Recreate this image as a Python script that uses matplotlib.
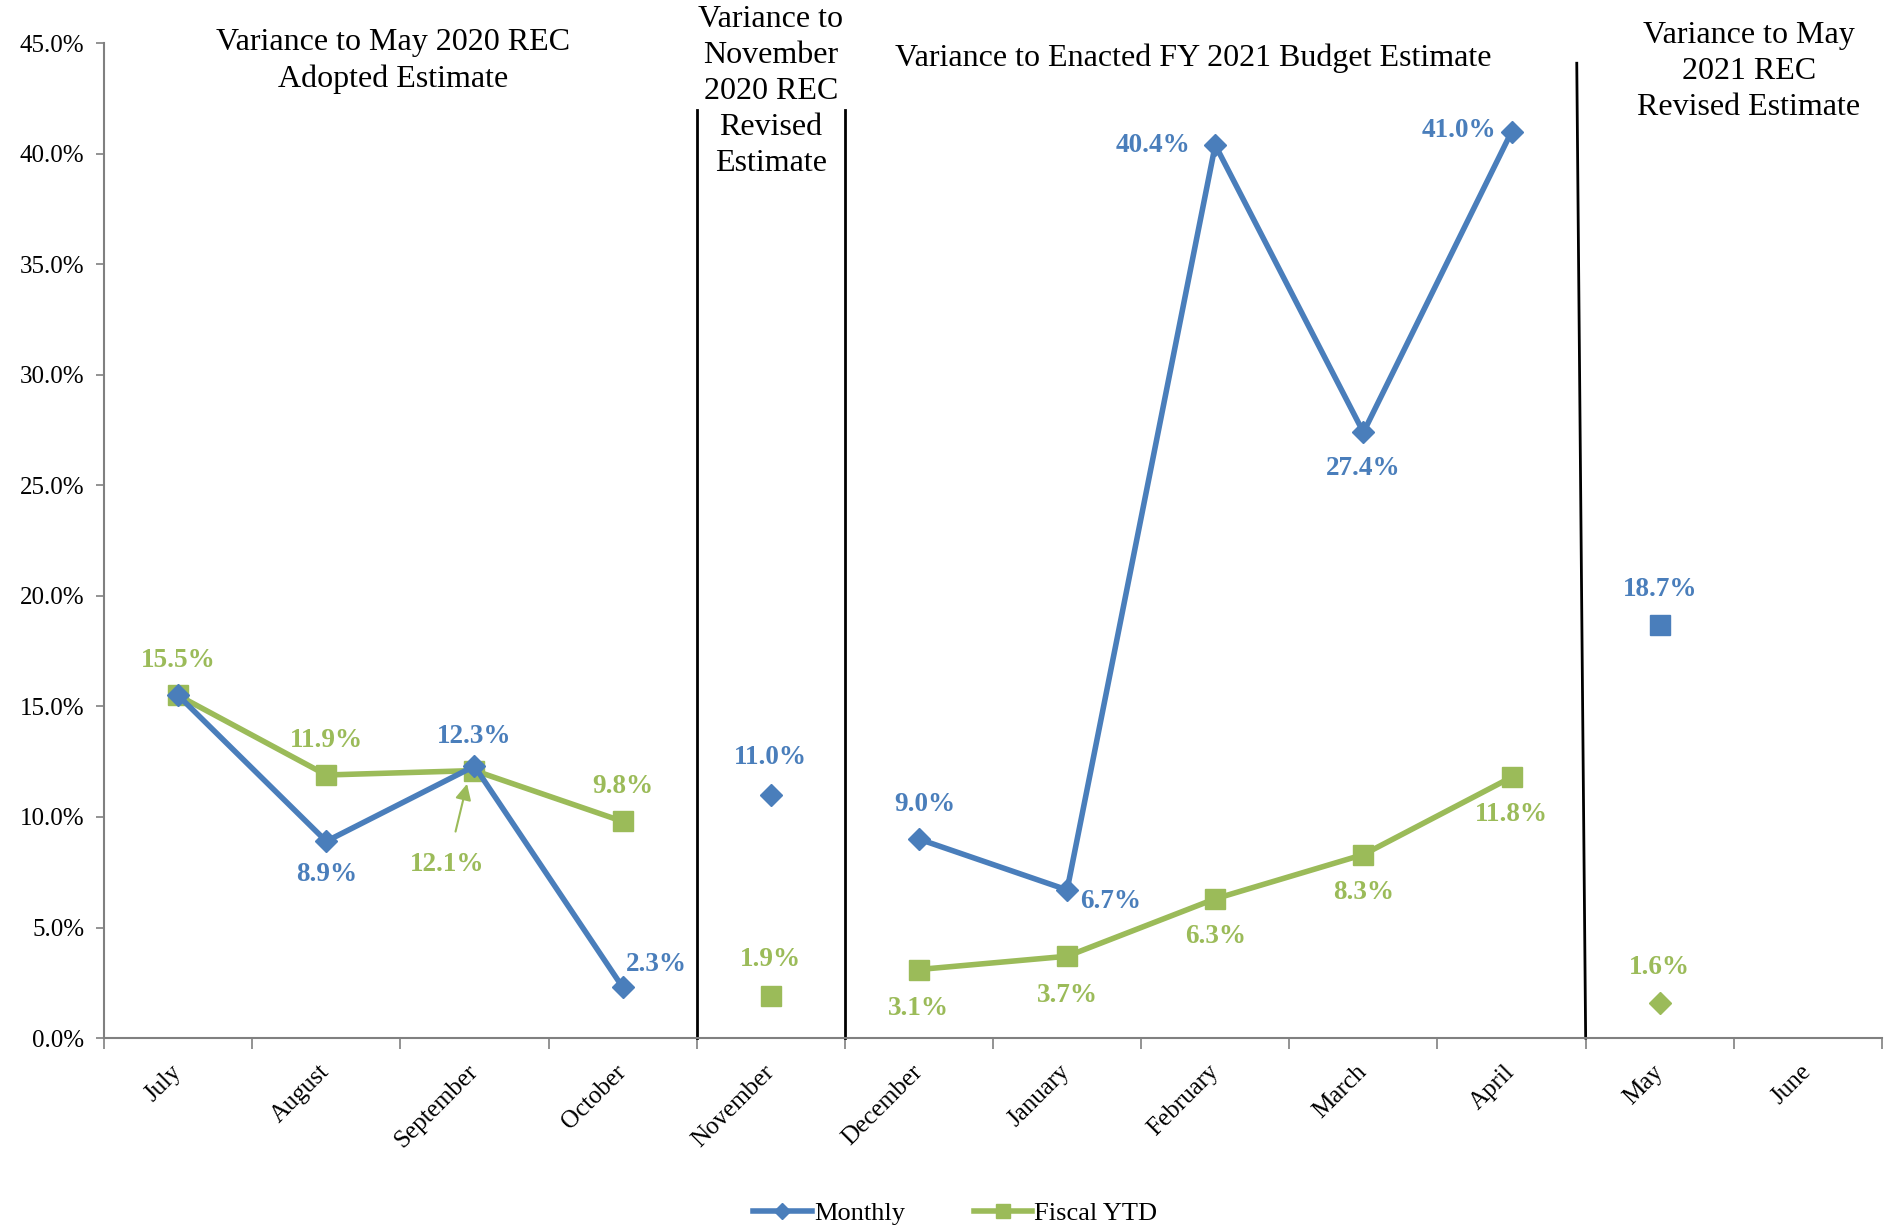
import numpy as np
import matplotlib.pyplot as plt
import matplotlib.transforms as mtransforms

months = ["July", "August", "September", "October", "November", "December",
          "January", "February", "March", "April", "May", "June"]
monthly = [15.5, 8.9, 12.3, 2.3, 11.0, 9.0, 6.7, 40.4, 27.4, 41.0, 18.7, np.nan]
fiscal_ytd = [15.5, 11.9, 12.1, 9.8, 1.9, 3.1, 3.7, 6.3, 8.3, 11.8, 1.6, np.nan]

# groups of months that share one estimate (lines break between them)
segments = [(0, 4), (4, 5), (5, 10), (10, 11)]
dividers = [3.5, 4.5, 9.5]
divider_tops = [42.0, 42.0, 44.1]

headers = ["Variance to May 2020 REC\nAdopted Estimate",
           "Variance to\nNovember\n2020 REC\nRevised\nEstimate",
           "Variance to Enacted FY 2021 Budget Estimate",
           "Variance to May\n2021 REC\nRevised Estimate"]
header_x = [1.45, 4.0, 6.85, 10.6]
header_y = [45.7, 46.75, 45.0, 46.0]

blue = "#4A7EBB"
green = "#9BBB59"

plt.rcParams['font.family'] = ['Liberation Serif', 'DejaVu Serif']

fig = plt.figure(figsize=(18.92, 12.28), dpi=100)
ax = fig.add_axes([0.055, 0.1547, 0.9397, 0.81])

x = np.arange(len(months))
m = np.array(monthly)
f = np.array(fiscal_ytd)

for i, (a, b) in enumerate(segments):
    xs = x[a:b]
    if i == 3:
        # May: markers swapped in the source
        ax.plot(xs, m[a:b], color=blue, marker="s", markersize=14, lw=0)
        ax.plot(xs, f[a:b], color=green, marker="D", markersize=11, lw=0)
    else:
        ax.plot(xs, m[a:b], color=blue, marker="D", markersize=11, lw=4,
                label="Monthly" if i == 0 else None, zorder=3)
        ax.plot(xs, f[a:b], color=green, marker="s", markersize=14, lw=4,
                label="Fiscal YTD" if i == 0 else None, zorder=2)

# label offsets in points
m_off = [None, (0, -24), (0, 21), (24, 16), (0, 27), (4, 25), (31, -8),
         (-45, 0), (0, -26), (-38, 1), (0, 25), None]
f_off = [(0, 25), (0, 25), None, (0, 25), (0, 26), (0, -28), (0, -28),
         (0, -27), (0, -27), (0, -27), (0, 25), None]

for i in range(len(months)):
    if m_off[i] is not None:
        ax.annotate(f"{monthly[i]:.1f}%", (x[i], monthly[i]), xytext=m_off[i],
                    textcoords="offset points", ha="center", va="center",
                    color=blue, fontsize=19.5, fontweight="bold")
    if f_off[i] is not None:
        ax.annotate(f"{fiscal_ytd[i]:.1f}%", (x[i], fiscal_ytd[i]), xytext=f_off[i],
                    textcoords="offset points", ha="center", va="center",
                    color=green, fontsize=19.5, fontweight="bold")

# September fiscal label with arrow
ax.annotate(f"{fiscal_ytd[2]:.1f}%", (x[2] - 0.05, fiscal_ytd[2] - 0.6), xytext=(-14, -58),
            textcoords="offset points", ha="center", va="center",
            color=green, fontsize=19.5, fontweight="bold",
            arrowprops=dict(arrowstyle="-|>", color=green, lw=1.5, mutation_scale=24,
                            shrinkA=13, shrinkB=0))

for d, top in zip(dividers, divider_tops):
    if d == 9.5:
        ax.plot([d - 0.06, d + 0.0], [top, 0], color="black", lw=2, clip_on=False)
    else:
        ax.plot([d, d], [0, top], color="black", lw=2, clip_on=False)

for t, hx, hy in zip(headers, header_x, header_y):
    ax.text(hx, hy, t, ha="center", va="top", fontsize=23, linespacing=1.32)

ax.set_xlim(-0.5, 11.5)
ax.set_ylim(0, 45)
ax.set_yticks(np.arange(0, 46, 5))
ax.set_yticklabels([f"{v:.1f}%" for v in np.arange(0, 46, 5)], fontsize=18)
ax.set_xticks(x)
ax.set_xticklabels(months, rotation=45, fontsize=18, ha="right", va="center",
                   rotation_mode="anchor")
shift = mtransforms.ScaledTranslation(0.06, 0, fig.dpi_scale_trans)
for lbl in ax.get_xticklabels():
    lbl.set_transform(lbl.get_transform() + shift)
ax.set_xticks(np.arange(-0.5, 12, 1), minor=True)
ax.tick_params(axis="x", which="major", length=0, pad=22)
ax.tick_params(axis="x", which="minor", length=8, color="#808080", width=1.2)
ax.tick_params(axis="y", length=6, color="#808080", width=1.2, pad=8)

for s in ["top", "right"]:
    ax.spines[s].set_visible(False)
ax.spines["left"].set_color("#808080")
ax.spines["bottom"].set_color("#808080")
ax.spines["left"].set_linewidth(1.5)
ax.spines["bottom"].set_linewidth(1.5)

fig.legend(loc="center", bbox_to_anchor=(0.505, 0.012), ncol=2, frameon=False,
           fontsize=19, handlelength=2.2, columnspacing=2.6, handletextpad=0.1,
           markerscale=0.7)

fig.savefig("out.png", dpi=100)
